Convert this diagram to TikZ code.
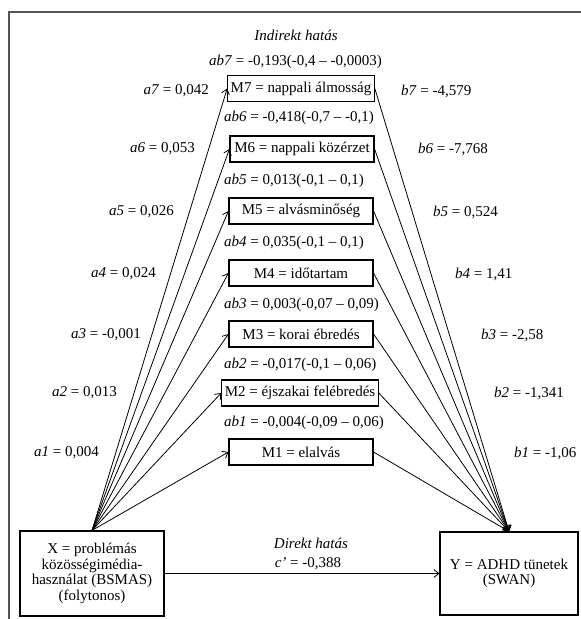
\documentclass[tikz,border=0pt]{standalone}
\usepackage{fontspec}
\setmainfont{Liberation Serif}
\usetikzlibrary{arrows.meta,positioning}
\definecolor{ink}{RGB}{0,0,0}
\definecolor{framegray}{RGB}{85,85,85}

\begin{document}
\begin{tikzpicture}[
  x=1pt,
  y=-1pt,
  font=\fontsize{15}{15.5}\selectfont,
  mbox/.style={
    draw=ink,
    line width=1.1pt,
    minimum width=144pt,
    minimum height=26pt,
    inner sep=3pt
  },
  endbox/.style={
    draw=ink,
    line width=1.1pt,
    align=center,
    inner sep=3pt
  },
  effect/.style={
    -{Straight Barb[length=5pt,width=8pt]},
    draw=ink,
    line width=0.8pt
  },
  coef/.style={
    font=\fontsize{15}{15.5}\selectfont,
    text=ink,
    inner sep=1pt
  },
  heading/.style={
    font=\fontsize{15}{15.5}\selectfont\itshape,
    text=ink
  }
]
\useasboundingbox (0,0) rectangle (581,619);

% ---------------------------------------------------------------------------
% Frame (only its top and left edges fall inside the picture).
% ---------------------------------------------------------------------------
\draw[draw=framegray,line width=1.8pt] (581,12) -- (9,12) -- (9,619);

% ---------------------------------------------------------------------------
% Predictor, outcome and the seven mediators.
% ---------------------------------------------------------------------------
\node[endbox,minimum width=144pt,minimum height=85pt] (x) at (92,573.5)
  {X = problémás\\közösségimédia-\\használat (BSMAS)\\(folytonos)};
\node[endbox,minimum width=138pt,minimum height=83pt] (y) at (509,573.5)
  {Y = ADHD tünetek\\(SWAN)};

\node[mbox] (m7) at (301,88.5) {M7 = nappali álmosság};
\node[mbox] (m6) at (302,149) {M6 = nappali közérzet};
\node[mbox] (m5) at (301,211) {M5 = alvásminőség};
\node[mbox] (m4) at (301,273) {M4 = időtartam};
\node[mbox] (m3) at (301,334) {M3 = korai ébredés};
\node[mbox] (m2) at (300,393) {M2 = éjszakai felébredés};
\node[mbox] (m1) at (301,452) {M1 = elalvás};

% Indirect effects above each mediator (left edges aligned).
\node[heading] (indirekt) at (296,35) {Indirekt hatás};
\node[coef,anchor=west] (ab7) at (208,62) {\textit{ab7} = -0,193(-0,4 -- -0,0003)};
\node[coef,anchor=west] (ab6) at (223,118) {\textit{ab6} = -0,418(-0,7 -- -0,1)};
\node[coef,anchor=west] (ab5) at (223,181) {\textit{ab5} = 0,013(-0,1 -- 0,1)};
\node[coef,anchor=west] (ab4) at (223,243) {\textit{ab4} = 0,035(-0,1 -- 0,1)};
\node[coef,anchor=west] (ab3) at (223,305) {\textit{ab3} = 0,003(-0,07 -- 0,09)};
\node[coef,anchor=west] (ab2) at (223,365) {\textit{ab2} = -0,017(-0,1 -- 0,06)};
\node[coef,anchor=west] (ab1) at (223,423) {\textit{ab1} = -0,004(-0,09 -- 0,06)};

% a paths: X -> M.
\foreach \m in {1,...,7} {
  \draw[effect] (x.north) -- (m\m.west);
}
\node[coef,anchor=east] (a7) at (210,91) {\textit{a7} = 0,042};
\node[coef,anchor=east] (a6) at (196,149) {\textit{a6} = 0,053};
\node[coef,anchor=east] (a5) at (175,212) {\textit{a5} = 0,026};
\node[coef,anchor=east] (a4) at (157,274) {\textit{a4} = 0,024};
\node[coef,anchor=east] (a3) at (142,335) {\textit{a3} = -0,001};
\node[coef,anchor=east] (a2) at (118,393) {\textit{a2} = 0,013};
\node[coef,anchor=east] (a1) at (100,453) {\textit{a1} = 0,004};

% b paths: M -> Y.
\foreach \m in {1,...,7} {
  \draw[effect] (m\m.east) -- (y.north);
}
\node[coef,anchor=west] (b7) at (400,91) {\textit{b7} = -4,579};
\node[coef,anchor=west] (b6) at (417,149) {\textit{b6} = -7,768};
\node[coef,anchor=west] (b5) at (432,212) {\textit{b5} = 0,524};
\node[coef,anchor=west] (b4) at (454,274) {\textit{b4} = 1,41};
\node[coef,anchor=west] (b3) at (480,335) {\textit{b3} = -2,58};
\node[coef,anchor=west] (b2) at (493,393) {\textit{b2} = -1,341};
\node[coef,anchor=west] (b1) at (513,453) {\textit{b1} = -1,06};

% ---------------------------------------------------------------------------
% Direct effect.
% ---------------------------------------------------------------------------
\draw[effect] (x.east) -- (y.west);
\node[heading] (direkt) at (311,543) {Direkt hatás};
\node[coef] (cprime) at (308,564) {\textit{c’} = -0,388};

\end{tikzpicture}
\end{document}
